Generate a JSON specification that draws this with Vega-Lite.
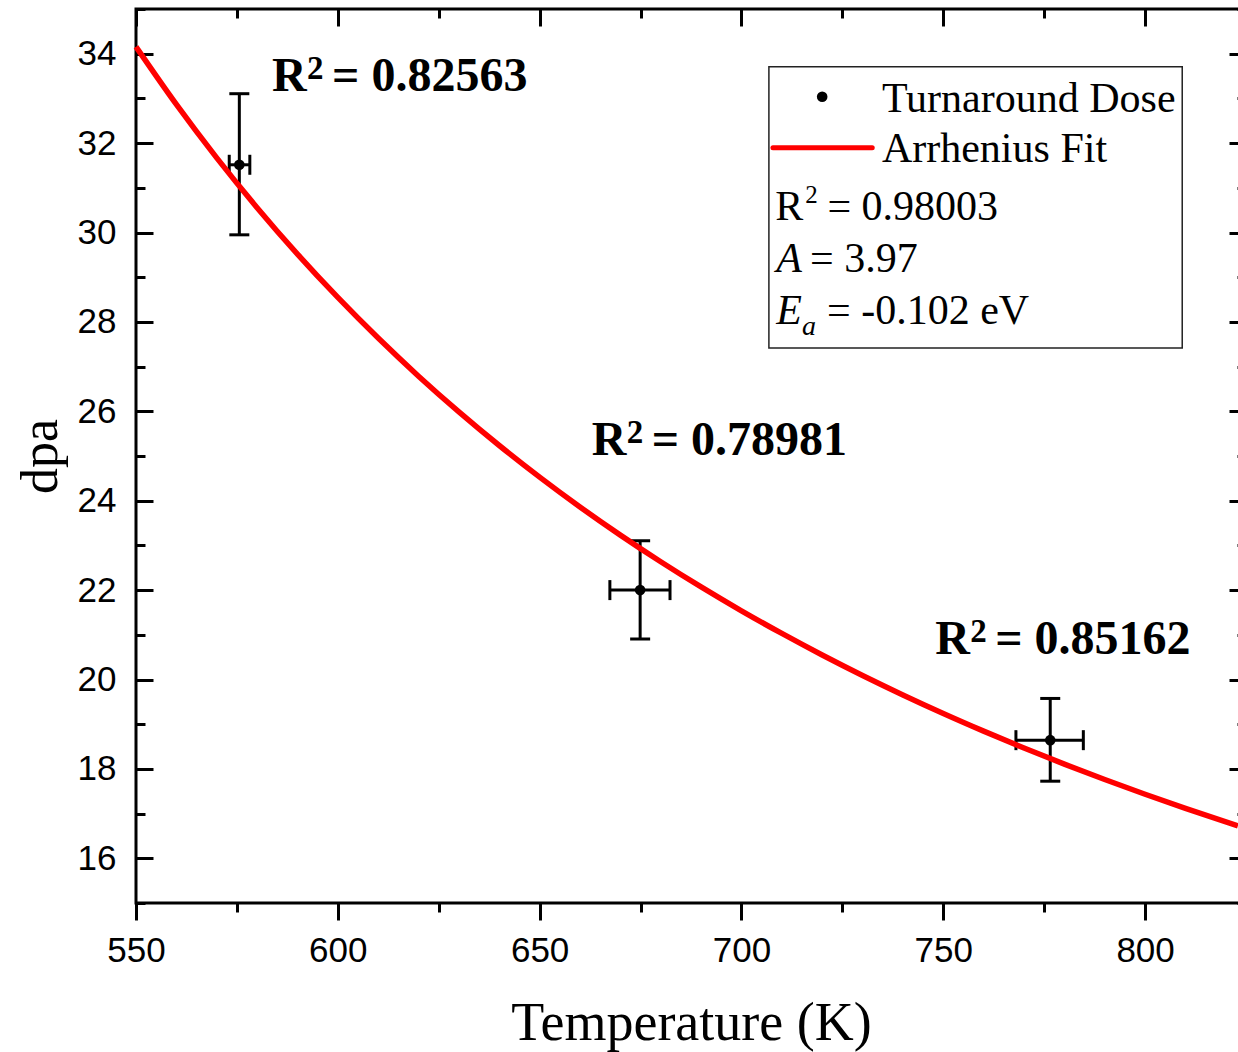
{
  "$schema": "https://vega.github.io/schema/vega-lite/v6.json",
  "width": 1110,
  "height": 894,
  "autosize": "none",
  "padding": {"left": 136, "top": 9, "right": 0, "bottom": 149},
  "background": "white",
  "datasets": {
    "fit": [
      {"T": 550, "dpa": 34.155}, {"T": 560, "dpa": 32.866}, {"T": 570, "dpa": 31.670},
      {"T": 580, "dpa": 30.556}, {"T": 590, "dpa": 29.517}, {"T": 600, "dpa": 28.547},
      {"T": 610, "dpa": 27.638}, {"T": 620, "dpa": 26.786}, {"T": 630, "dpa": 25.987},
      {"T": 640, "dpa": 25.235}, {"T": 650, "dpa": 24.527}, {"T": 660, "dpa": 23.860},
      {"T": 670, "dpa": 23.230}, {"T": 680, "dpa": 22.634}, {"T": 690, "dpa": 22.070},
      {"T": 700, "dpa": 21.536}, {"T": 710, "dpa": 21.030}, {"T": 720, "dpa": 20.548},
      {"T": 730, "dpa": 20.090}, {"T": 740, "dpa": 19.655}, {"T": 750, "dpa": 19.240},
      {"T": 760, "dpa": 18.845}, {"T": 770, "dpa": 18.467}, {"T": 780, "dpa": 18.107},
      {"T": 790, "dpa": 17.763}, {"T": 800, "dpa": 17.433}, {"T": 810, "dpa": 17.118},
      {"T": 823, "dpa": 16.727}
    ],
    "dose": [
      {"T": 575.6, "T_lo": 573.1, "T_hi": 578.2, "dpa": 31.515, "dpa_lo": 29.948, "dpa_hi": 33.105},
      {"T": 674.9, "T_lo": 667.4, "T_hi": 682.3, "dpa": 22.0, "dpa_lo": 20.904, "dpa_hi": 23.105},
      {"T": 776.5, "T_lo": 768.0, "T_hi": 784.7, "dpa": 18.643, "dpa_lo": 17.725, "dpa_hi": 19.576}
    ],
    "fitNotes": [
      {"T": 583.7, "dpa": 33.172, "label": "= 0.82563"},
      {"T": 662.9, "dpa": 25.023, "label": "= 0.78981"},
      {"T": 748.0, "dpa": 20.568, "label": "= 0.85162"}
    ],
    "keyBox": [{"T0": 706.8, "T1": 809.2, "d0": 27.418, "d1": 33.709}],
    "keyLine": [{"T0": 707.8, "T1": 732.4, "dpa": 31.896}],
    "keyDot": [{"T": 720.0, "dpa": 33.037}],
    "keyText": [
      {"T": 734.8, "dpa": 32.702, "label": "Turnaround Dose"},
      {"T": 734.8, "dpa": 31.582, "label": "Arrhenius Fit"},
      {"T": 708.4, "dpa": 30.284, "label": "R"},
      {"T": 721.3, "dpa": 30.284, "label": "= 0.98003"},
      {"T": 717.0, "dpa": 29.120, "label": "= 3.97"},
      {"T": 721.2, "dpa": 27.956, "label": "= -0.102 eV"}
    ],
    "keySup": [{"T": 715.8, "dpa": 30.664, "label": "2"}],
    "keySymbols": [
      {"T": 708.6, "dpa": 29.120, "label": "A"},
      {"T": 708.6, "dpa": 27.956, "label": "E"}
    ],
    "keySub": [{"T": 715.0, "dpa": 27.709, "label": "a"}]
  },
  "layer": [
    {
      "data": {"name": "dose"},
      "mark": {"type": "rule", "color": "black", "strokeWidth": 3},
      "encoding": {
        "x": {"field": "T", "type": "quantitative", "scale": {"domain": [550, 825], "nice": false, "zero": false},
              "axis": {"orient": "bottom", "values": [575, 625, 675, 725, 775, 825], "tickSize": 9, "labels": false, "title": null}},
        "y": {"field": "dpa_lo", "type": "quantitative", "scale": {"domain": [15, 35], "nice": false, "zero": false},
              "axis": {"orient": "left", "offset": -17, "tickSize": 17, "values": [16, 18, 20, 22, 24, 26, 28, 30, 32, 34], "labels": false, "title": null}},
        "y2": {"field": "dpa_hi"}
      }
    },
    {
      "data": {"name": "dose"},
      "mark": {"type": "rule", "color": "black", "strokeWidth": 3},
      "encoding": {
        "x": {"field": "T_lo", "type": "quantitative", "scale": {"domain": [550, 825], "nice": false, "zero": false},
              "axis": {"orient": "top", "offset": -17, "tickSize": 17, "values": [550, 600, 650, 700, 750, 800], "labels": false, "title": null}},
        "x2": {"field": "T_hi"},
        "y": {"field": "dpa", "type": "quantitative", "scale": {"domain": [15, 35], "nice": false, "zero": false},
              "axis": {"orient": "left", "offset": -9, "tickSize": 9, "values": [15, 17, 19, 21, 23, 25, 27, 29, 31, 33, 35], "labels": false, "title": null}}
      }
    },
    {
      "data": {"name": "dose"},
      "mark": {"type": "tick", "orient": "horizontal", "color": "black", "opacity": 1, "size": 20, "thickness": 3},
      "encoding": {
        "x": {"field": "T", "type": "quantitative", "scale": {"domain": [550, 825], "nice": false, "zero": false},
              "axis": {"orient": "top", "offset": -9, "tickSize": 9, "values": [575, 625, 675, 725, 775, 825], "labels": false, "title": null}},
        "y": {"field": "dpa_hi", "type": "quantitative", "scale": {"domain": [15, 35], "nice": false, "zero": false},
              "axis": {"orient": "right", "offset": -17, "tickSize": 17, "values": [16, 18, 20, 22, 24, 26, 28, 30, 32, 34], "labels": false, "title": null}}
      }
    },
    {
      "data": {"name": "dose"},
      "mark": {"type": "tick", "orient": "horizontal", "color": "black", "opacity": 1, "size": 20, "thickness": 3},
      "encoding": {
        "x": {"field": "T", "type": "quantitative", "scale": {"domain": [550, 825], "nice": false, "zero": false}, "axis": null},
        "y": {"field": "dpa_lo", "type": "quantitative", "scale": {"domain": [15, 35], "nice": false, "zero": false},
              "axis": {"orient": "right", "offset": -9, "tickSize": 9, "values": [15, 17, 19, 21, 23, 25, 27, 29, 31, 33, 35], "labels": false, "title": null}}
      }
    },
    {
      "data": {"name": "dose"},
      "mark": {"type": "tick", "orient": "vertical", "color": "black", "opacity": 1, "size": 20, "thickness": 3},
      "encoding": {
        "x": {"field": "T_lo", "type": "quantitative", "scale": {"domain": [550, 825], "nice": false, "zero": false}, "axis": null},
        "y": {"field": "dpa", "type": "quantitative", "scale": {"domain": [15, 35], "nice": false, "zero": false}, "axis": null}
      }
    },
    {
      "data": {"name": "dose"},
      "mark": {"type": "tick", "orient": "vertical", "color": "black", "opacity": 1, "size": 20, "thickness": 3},
      "encoding": {
        "x": {"field": "T_hi", "type": "quantitative", "scale": {"domain": [550, 825], "nice": false, "zero": false}, "axis": null},
        "y": {"field": "dpa", "type": "quantitative", "scale": {"domain": [15, 35], "nice": false, "zero": false}, "axis": null}
      }
    },
    {
      "data": {"name": "fit"},
      "mark": {"type": "line", "color": "#ff0000", "strokeWidth": 5.5, "interpolate": "monotone"},
      "encoding": {
        "x": {"field": "T", "type": "quantitative", "scale": {"domain": [550, 825], "nice": false, "zero": false},
              "axis": {"orient": "bottom", "values": [550, 600, 650, 700, 750, 800], "tickSize": 17,
                       "labelFont": "Liberation Sans", "labelFontSize": 35, "labelPadding": 13, "labelFlush": false, "labelOverlap": false,
                       "title": "Temperature (K)", "titleFont": "Liberation Serif", "titleFontSize": 54, "titleFontWeight": "normal", "titlePadding": 28}},
        "y": {"field": "dpa", "type": "quantitative", "scale": {"domain": [15, 35], "nice": false, "zero": false},
              "axis": {"orient": "left", "values": [16, 18, 20, 22, 24, 26, 28, 30, 32, 34], "ticks": false, "tickSize": 0,
                       "labelFont": "Liberation Sans", "labelFontSize": 35, "labelPadding": 20, "labelFlush": false, "labelOverlap": false,
                       "title": "dpa", "titleFont": "Liberation Serif", "titleFontSize": 52, "titleFontWeight": "normal", "titlePadding": 10}}
      }
    },
    {
      "data": {"name": "dose"},
      "mark": {"type": "circle", "color": "black", "size": 113, "opacity": 1},
      "encoding": {
        "x": {"field": "T", "type": "quantitative", "scale": {"domain": [550, 825], "nice": false, "zero": false}, "axis": null},
        "y": {"field": "dpa", "type": "quantitative", "scale": {"domain": [15, 35], "nice": false, "zero": false}, "axis": null}
      }
    },
    {
      "data": {"name": "fitNotes"},
      "mark": {"type": "text", "font": "Liberation Serif", "fontWeight": "bold", "fontSize": 48, "align": "left", "baseline": "alphabetic", "color": "black"},
      "encoding": {
        "x": {"field": "T", "type": "quantitative", "scale": {"domain": [550, 825], "nice": false, "zero": false}, "axis": null},
        "y": {"field": "dpa", "type": "quantitative", "scale": {"domain": [15, 35], "nice": false, "zero": false}, "axis": null},
        "text": {"value": "R"}
      }
    },
    {
      "data": {"name": "fitNotes"},
      "mark": {"type": "text", "font": "Liberation Serif", "fontWeight": "bold", "fontSize": 33, "align": "left", "baseline": "alphabetic", "dx": 35, "dy": -12, "color": "black"},
      "encoding": {
        "x": {"field": "T", "type": "quantitative", "scale": {"domain": [550, 825], "nice": false, "zero": false}, "axis": null},
        "y": {"field": "dpa", "type": "quantitative", "scale": {"domain": [15, 35], "nice": false, "zero": false}, "axis": null},
        "text": {"value": "2"}
      }
    },
    {
      "data": {"name": "fitNotes"},
      "mark": {"type": "text", "font": "Liberation Serif", "fontWeight": "bold", "fontSize": 48, "align": "left", "baseline": "alphabetic", "dx": 60, "color": "black"},
      "encoding": {
        "x": {"field": "T", "type": "quantitative", "scale": {"domain": [550, 825], "nice": false, "zero": false}, "axis": null},
        "y": {"field": "dpa", "type": "quantitative", "scale": {"domain": [15, 35], "nice": false, "zero": false}, "axis": null},
        "text": {"field": "label"}
      }
    },
    {
      "data": {"name": "keyBox"},
      "mark": {"type": "rect", "fill": "white", "stroke": "#222222", "strokeWidth": 1.5},
      "encoding": {
        "x": {"field": "T0", "type": "quantitative", "scale": {"domain": [550, 825], "nice": false, "zero": false}, "axis": null},
        "x2": {"field": "T1"},
        "y": {"field": "d0", "type": "quantitative", "scale": {"domain": [15, 35], "nice": false, "zero": false}, "axis": null},
        "y2": {"field": "d1"}
      }
    },
    {
      "data": {"name": "keyLine"},
      "mark": {"type": "rule", "color": "#ff0000", "strokeWidth": 5, "strokeCap": "round"},
      "encoding": {
        "x": {"field": "T0", "type": "quantitative", "scale": {"domain": [550, 825], "nice": false, "zero": false}, "axis": null},
        "x2": {"field": "T1"},
        "y": {"field": "dpa", "type": "quantitative", "scale": {"domain": [15, 35], "nice": false, "zero": false}, "axis": null}
      }
    },
    {
      "data": {"name": "keyDot"},
      "mark": {"type": "circle", "color": "black", "size": 113, "opacity": 1},
      "encoding": {
        "x": {"field": "T", "type": "quantitative", "scale": {"domain": [550, 825], "nice": false, "zero": false}, "axis": null},
        "y": {"field": "dpa", "type": "quantitative", "scale": {"domain": [15, 35], "nice": false, "zero": false}, "axis": null}
      }
    },
    {
      "data": {"name": "keyText"},
      "mark": {"type": "text", "font": "Liberation Serif", "fontSize": 42, "align": "left", "baseline": "alphabetic", "color": "black"},
      "encoding": {
        "x": {"field": "T", "type": "quantitative", "scale": {"domain": [550, 825], "nice": false, "zero": false}, "axis": null},
        "y": {"field": "dpa", "type": "quantitative", "scale": {"domain": [15, 35], "nice": false, "zero": false}, "axis": null},
        "text": {"field": "label"}
      }
    },
    {
      "data": {"name": "keySup"},
      "mark": {"type": "text", "font": "Liberation Serif", "fontSize": 25, "align": "left", "baseline": "alphabetic", "color": "black"},
      "encoding": {
        "x": {"field": "T", "type": "quantitative", "scale": {"domain": [550, 825], "nice": false, "zero": false}, "axis": null},
        "y": {"field": "dpa", "type": "quantitative", "scale": {"domain": [15, 35], "nice": false, "zero": false}, "axis": null},
        "text": {"field": "label"}
      }
    },
    {
      "data": {"name": "keySymbols"},
      "mark": {"type": "text", "font": "Liberation Serif", "fontStyle": "italic", "fontSize": 42, "align": "left", "baseline": "alphabetic", "color": "black"},
      "encoding": {
        "x": {"field": "T", "type": "quantitative", "scale": {"domain": [550, 825], "nice": false, "zero": false}, "axis": null},
        "y": {"field": "dpa", "type": "quantitative", "scale": {"domain": [15, 35], "nice": false, "zero": false}, "axis": null},
        "text": {"field": "label"}
      }
    },
    {
      "data": {"name": "keySub"},
      "mark": {"type": "text", "font": "Liberation Serif", "fontStyle": "italic", "fontSize": 28, "align": "left", "baseline": "alphabetic", "color": "black"},
      "encoding": {
        "x": {"field": "T", "type": "quantitative", "scale": {"domain": [550, 825], "nice": false, "zero": false}, "axis": null},
        "y": {"field": "dpa", "type": "quantitative", "scale": {"domain": [15, 35], "nice": false, "zero": false}, "axis": null},
        "text": {"field": "label"}
      }
    }
  ],
  "resolve": {"axis": {"x": "independent", "y": "independent"}},
  "config": {
    "view": {"stroke": "black", "strokeWidth": 3},
    "axis": {"grid": false, "domain": false, "tickColor": "black", "tickWidth": 3, "labelColor": "black", "titleColor": "black"}
  }
}
